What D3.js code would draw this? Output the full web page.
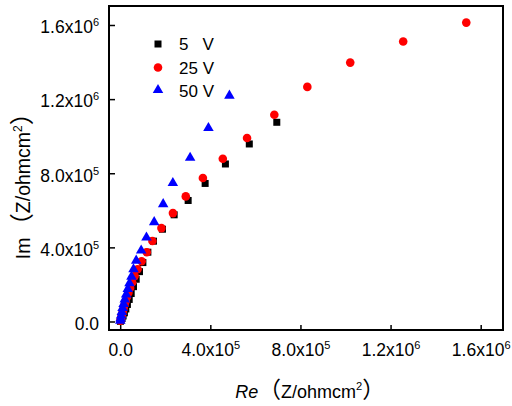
<!DOCTYPE html>
<html><head><meta charset="utf-8">
<script src="https://cdn.jsdelivr.net/npm/d3@7"></script>
<style>
html,body{margin:0;padding:0;background:#fff;}
svg{display:block;font-family:"Liberation Sans",Arial,sans-serif;}
.cjk{font-family:"Noto Sans CJK SC","Noto Sans CJK JP",sans-serif;}
</style></head>
<body><svg id="c" width="512" height="406"></svg>
<script>
// Data (x = Re, y = Im), Z/ohmcm^2
const s5x  = [695000,573000,467000,377000,301600,239500,187600,147700,122800,100700,85600,71000,59000,48800,40000,32000,25000,18600,12900,8000,3500,1000];
const s5y  = [1075000,958000,850000,745000,653000,575700,498000,433500,374000,318000,269000,228000,188000,151000,119000,92000,67600,47000,29700,16000,5400,1000];
const s25x = [1536000,1256000,1021000,830600,684000,563000,455400,367000,291000,234000,183000,143000,118000,95000,77000,64000,53000,44000,36500,30000,24500,19600,15500,12000,8500,5500,3000,1000];
const s25y = [1613000,1511000,1397000,1266000,1116000,990000,878000,774000,675000,585000,504000,434000,374000,325000,282000,245000,211000,181000,155000,132000,110000,91000,73000,56000,41000,27000,15000,4000];
const s50x = [484700,391600,310400,233700,190700,150800,116600,93100,71000,59000,50000,41200,33700,26600,20400,15100,10600,7100,4000,1800,400];
const s50y = [1219000,1044000,883800,747000,633500,536000,453000,382700,328600,282000,242000,206500,175700,146000,119000,94600,73000,51400,32400,16200,3800];
const seriesNames = ["5   V","25 V","50 V"];
const tickValues = [0,400000,800000,1200000,1600000];
const tickMant = ["0.0","4.0x10","8.0x10","1.2x10","1.6x10"];
const tickExp  = ["","5","5","6","6"];

const svg = d3.select("#c");
const L=109,R=503,T=6,B=330;
const x = d3.scaleLinear().domain([-49700,1699000]).range([L,R]);
const y = d3.scaleLinear().domain([-45900,1702500]).range([B,T]);

// frame
svg.append("rect").attr("x",L).attr("y",T).attr("width",R-L).attr("height",B-T)
  .attr("fill","none").attr("stroke","#000").attr("stroke-width",2);

function fmtTicks(sel){
  sel.attr("font-family",null).attr("font-size",17.5);
  sel.selectAll(".tick text").each(function(d,i){
    const t=d3.select(this); t.text(null);
    t.append("tspan").text(tickMant[i]);
    if(tickExp[i]) t.append("tspan").attr("font-size",11).attr("dy",-7).text(tickExp[i]);
  });
}
const xa = svg.append("g").attr("transform",`translate(0,${B})`)
  .call(d3.axisBottom(x).tickValues(tickValues).tickSizeInner(-5).tickSizeOuter(0).tickPadding(14));
xa.select(".domain").remove();
xa.selectAll(".tick line").attr("stroke-width",1.5);
xa.selectAll(".tick text").attr("fill","#000");
fmtTicks(xa);

const ya = svg.append("g").attr("transform",`translate(${L},0)`)
  .call(d3.axisLeft(y).tickValues(tickValues).tickSizeInner(-6).tickSizeOuter(0).tickPadding(10));
ya.select(".domain").remove();
ya.selectAll(".tick line").attr("stroke-width",1.5);
ya.selectAll(".tick text").attr("fill","#000").attr("dy","0.45em");
fmtTicks(ya);

// data
const zip=(a,b)=>a.map((v,i)=>[v,b[i]]);
const g=svg.append("g");
g.selectAll(".sq").data(zip(s5x,s5y)).join("rect")
  .attr("x",d=>x(d[0])-3.5).attr("y",d=>y(d[1])-3.5).attr("width",7).attr("height",7).attr("fill","#000");
g.selectAll(".ci").data(zip(s25x,s25y)).join("circle")
  .attr("cx",d=>x(d[0])).attr("cy",d=>y(d[1])).attr("r",4.3).attr("fill","#ff0000");
const tri=d3.symbol().type(d3.symbolTriangle).size(48);
g.selectAll(".tr").data(zip(s50x,s50y)).join("path")
  .attr("d",tri).attr("transform",d=>`translate(${x(d[0])},${y(d[1])})`).attr("fill","#0000ff");

// legend
const lg=svg.append("g");
lg.append("rect").attr("x",154.5).attr("y",40.5).attr("width",7).attr("height",7).attr("fill","#000");
lg.append("circle").attr("cx",158).attr("cy",67.5).attr("r",4.3).attr("fill","#ff0000");
lg.append("path").attr("d",tri).attr("transform","translate(158,90)").attr("fill","#0000ff");
[50,74,97].forEach((yy,i)=>{
  lg.append("text").attr("x",179).attr("y",yy).attr("font-size",17).style("white-space","pre").text(seriesNames[i]);
});

// axis titles
function unitTitle(t,fs){
  t.append("tspan").attr("class","cjk").attr("font-size",fs*1.25).text("（");
  t.append("tspan").text("Z/ohmcm");
  t.append("tspan").attr("font-size",fs*0.62).attr("dy",-8).text("2");
  t.append("tspan").attr("class","cjk").attr("font-size",fs*1.25).attr("dy",8).text("）");
}
const xt=svg.append("text").attr("x",310).attr("y",398).attr("text-anchor","middle").attr("font-size",18);
xt.append("tspan").attr("font-style","italic").text("Re");
unitTitle(xt,18);

const yt=svg.append("text").attr("transform","translate(30,180) rotate(-90)").attr("text-anchor","middle").attr("font-size",19.5);
yt.append("tspan").text("Im");
unitTitle(yt,19.5);
</script></body></html>
